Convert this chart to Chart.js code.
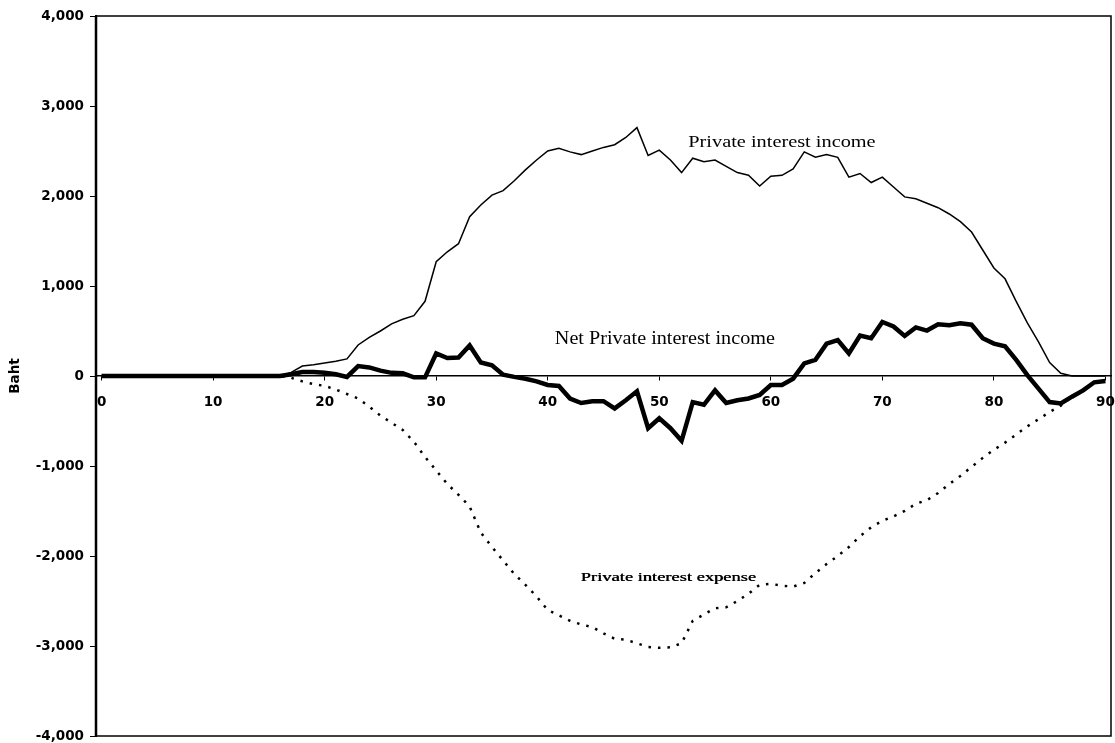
<!DOCTYPE html>
<html lang="en">
<head>
<meta charset="UTF-8">
<script src="https://cdn.jsdelivr.net/npm/chart.js@4/dist/chart.umd.min.js"></script>
<title>Private interest income and expense by age</title>
<style>
    html, body { margin: 0; padding: 0; background: #fff; }
    #wrap { width: 1115px; height: 743px; }
</style>
</head>
<body>
<div id="wrap"><canvas id="chart"></canvas></div>
<script>
    // age 0..90
    const ages = Array.from({ length: 91 }, (_, i) => i);

    const income = [
        0, 0, 0, 0, 0, 0, 0, 0, 0, 0,
        0, 0, 0, 0, 0, 0, 0, 40, 110, 125,
        145, 165, 190, 345, 430, 500, 580, 630, 670, 830,
        1270, 1380, 1470, 1770, 1900, 2010, 2060, 2170, 2290, 2400,
        2500, 2530, 2490, 2460, 2500, 2540, 2570, 2650, 2760, 2450,
        2510, 2400, 2260, 2420, 2380, 2400, 2330, 2260, 2230, 2110,
        2220, 2230, 2300, 2490, 2430, 2460, 2430, 2210, 2250, 2150,
        2210, 2100, 1990, 1970, 1920, 1870, 1800, 1715, 1600, 1400,
        1200, 1080, 830, 590, 380, 150, 30, 0, 0, 0,
        0
    ];

    const net = [
        0, 0, 0, 0, 0, 0, 0, 0, 0, 0,
        0, 0, 0, 0, 0, 0, 0, 20, 45, 45,
        35, 20, -10, 110, 95, 60, 35, 30, -15, -15,
        250, 200, 205, 340, 150, 120, 15, -10, -30, -60,
        -100, -110, -250, -300, -280, -280, -360, -270, -170, -580,
        -470, -580, -720, -290, -320, -160, -300, -270, -250, -210,
        -100, -100, -30, 140, 180, 360, 400, 250, 450, 420,
        600, 550, 445, 540, 505, 575, 565, 585, 570, 420,
        360, 330, 180, 10, -140, -290, -305, -230, -160, -70,
        -55
    ];

    const expense = [
        0, 0, 0, 0, 0, 0, 0, 0, 0, 0,
        0, 0, 0, 0, 0, 0, 0, -20, -60, -90,
        -110, -150, -200, -250, -340, -440, -520, -600, -730, -900,
        -1050, -1200, -1320, -1450, -1740, -1900, -2050, -2200, -2320, -2450,
        -2600, -2660, -2720, -2760, -2790, -2860, -2920, -2930, -2970, -3010,
        -3020, -3015, -2970, -2720, -2650, -2580, -2570, -2500, -2420, -2320,
        -2310, -2330, -2340, -2300, -2190, -2090, -2000, -1900, -1780, -1680,
        -1610, -1560, -1500, -1420, -1380, -1300, -1200, -1110, -1010, -910,
        -820, -740, -650, -560, -480, -400, -330, -230, -160, -70,
        -55
    ];

    const xTicks = [0, 10, 20, 30, 40, 50, 60, 70, 80, 90];

    // inline labels: [text, age, value, font, horizontal stretch]
    const seriesLabels = [
        ['Private interest income', 61.0, 2590, '16px "Liberation Serif"', 1.27],
        ['Net Private interest income', 50.5, 405, '18px "Liberation Serif"', 1.12],
        ['Private interest expense', 50.8, -2240, '13px "Liberation Serif"', 1.42]
    ];

    const pts = arr => ages.map((a, i) => ({ x: a, y: arr[i] }));

    const frame = {
        id: 'frame',
        afterDraw(chart) {
            const { ctx, chartArea: a, scales } = chart;
            ctx.save();
            ctx.strokeStyle = '#000';
            ctx.lineWidth = 1.5;
            ctx.strokeRect(a.left, a.top, a.right - a.left, a.bottom - a.top);
            ctx.lineWidth = 2.5;
            ctx.beginPath();
            ctx.moveTo(a.left, a.top);
            ctx.lineTo(a.left, a.bottom);
            ctx.stroke();
            ctx.fillStyle = '#000';
            ctx.textAlign = 'center';
            ctx.textBaseline = 'middle';
            seriesLabels.forEach(([t, x, y, f, sx]) => {
                ctx.save();
                ctx.font = f;
                ctx.translate(scales.x.getPixelForValue(x), scales.y.getPixelForValue(y));
                ctx.scale(sx, 1);
                ctx.fillText(t, 0, 0);
                if (t === 'Private interest expense') ctx.fillText(t, 0.4, 0);
                ctx.restore();
            });
            ctx.restore();
        }
    };

    const tickFont = { family: '"DejaVu Sans", Verdana', size: 13.5, weight: 'bold' };

    new Chart(document.getElementById('chart'), {
        type: 'line',
        data: {
            datasets: [
                { label: 'Net Private interest income', data: pts(net), borderColor: '#000', borderWidth: 4.5, borderJoinStyle: 'miter' },
                { label: 'Private interest income', data: pts(income), borderColor: '#000', borderWidth: 1.5 },
                { label: 'Private interest expense', data: pts(expense), borderColor: '#000', borderWidth: 2.5, borderDash: [2.5, 7] }
            ]
        },
        options: {
            responsive: true,
            maintainAspectRatio: false,
            animation: false,
            layout: { padding: { top: 16, right: 4, bottom: 7, left: 0 } },
            elements: { point: { radius: 0 }, line: { tension: 0 } },
            plugins: { legend: { display: false }, tooltip: { enabled: false } },
            scales: {
                x: {
                    type: 'linear',
                    position: { y: 0 },
                    min: -0.5,
                    max: 90.5,
                    afterBuildTicks: s => { s.ticks = xTicks.map(v => ({ value: v })); },
                    afterFit: s => { s.paddingLeft = 0; s.paddingRight = 0; },
                    border: { color: '#000', width: 1.5 },
                    grid: { drawOnChartArea: false, color: '#000', tickLength: 4 },
                    ticks: { color: '#000', font: tickFont, padding: 14, maxRotation: 0, callback: v => String(v) }
                },
                y: {
                    min: -4000,
                    max: 4000,
                    afterFit: s => { s.width = 96; s.paddingTop = 0; s.paddingBottom = 0; },
                    border: { color: '#000', width: 2 },
                    grid: { drawOnChartArea: false, color: '#000', tickLength: 6 },
                    ticks: { stepSize: 1000, color: '#000', font: tickFont, padding: 6, callback: v => v.toLocaleString('en-US') },
                    title: { display: true, text: 'Baht', color: '#000', font: tickFont, padding: { top: 7, bottom: 2 } }
                }
            }
        },
        plugins: [frame]
    });
</script>
</body>
</html>
